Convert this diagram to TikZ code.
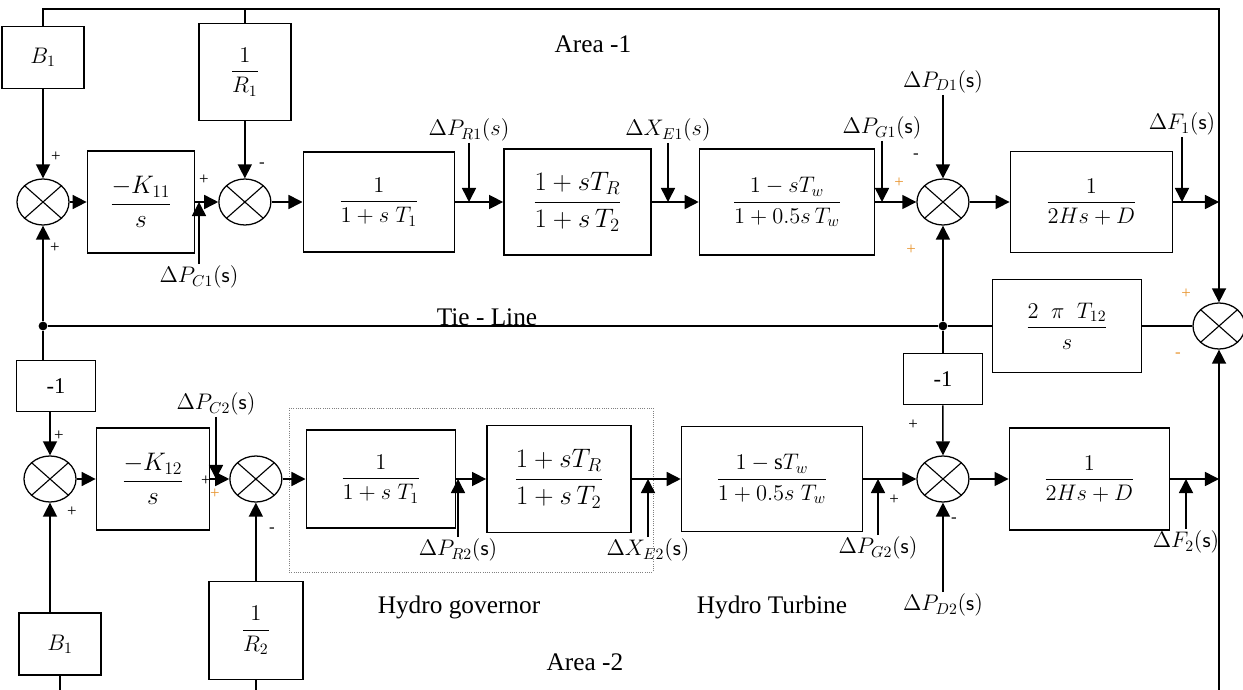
\documentclass[tikz,border=0pt]{standalone}
\usepackage{fix-cm}
\usepackage{amsmath}
\usepackage{fontspec}
\setmainfont{Liberation Serif}
\usetikzlibrary{shapes.geometric, arrows.meta, positioning}
\definecolor{plusorange}{RGB}{232,150,50}
\tikzset{
  blk/.style={rectangle, draw, line width=1.1pt, inner sep=2pt,
              align=center, font=\fontsize{16}{19}\selectfont},
  bigblk/.style={blk, font=\fontsize{19}{22}\selectfont},
  sumj/.style={ellipse, draw, line width=0.9pt, minimum width=1.3cm,
               minimum height=1.15cm, inner sep=0pt,
               path picture={\draw[line width=0.8pt]
                 (path picture bounding box.north west) -- (path picture bounding box.south east)
                 (path picture bounding box.north east) -- (path picture bounding box.south west);}},
  dot/.style={circle, fill, inner sep=0pt, minimum size=0.22cm},
  sig/.style={font=\fontsize{16}{19}\selectfont, inner sep=1pt},
  pm/.style={font=\fontsize{12}{14}\selectfont, inner sep=0pt},
  lbl/.style={font=\fontsize{18}{21}\selectfont},
  arr/.style={-{Triangle[length=10pt,width=10pt]}, line width=1.1pt},
  ln/.style={line width=1.1pt},
}
\begin{document}
\begin{tikzpicture}[x=0.025cm, y=-0.025cm]
  \useasboundingbox (0,0) rectangle (1243,690);
  \clip (0,0) rectangle (1243,690);

  \node[sumj] (s1) at (43,202) {};
  \node[blk, font=\fontsize{18}{21}\selectfont, minimum width=2.675cm, minimum height=2.55cm, right=0.425cm of s1] (k11) {$\dfrac{-K_{11}}{s}$};
  \node[sumj, right=0.575cm of k11] (s2) {};
  \node[blk, minimum width=3.775cm, minimum height=2.5cm, right=0.775cm of s2] (gov1) {$\dfrac{1}{1+s\;T_1}$};
  \node[bigblk, minimum width=3.675cm, minimum height=2.65cm, right=1.2cm of gov1] (hyd1) {$\dfrac{1+sT_R}{1+s\,T_2}$};
  \node[blk, minimum width=4.375cm, minimum height=2.65cm, right=1.175cm of hyd1] (tur1) {$\dfrac{1-sT_w}{1+0.5s\,T_w}$};
  \node[sumj, right=1.025cm of tur1] (s3) {};
  \node[blk, minimum width=4.05cm, minimum height=2.525cm, right=1cm of s3] (pw1) {$\dfrac{1}{2Hs+D}$};
  \node[blk, minimum width=2.05cm, minimum height=1.55cm, above=2.225cm of s1] (b1t) {$B_1$};
  \node[blk, minimum width=2.3cm, minimum height=2.425cm, above=1.425cm of s2] (r1t) {$\dfrac{1}{R_1}$};

  \node[sumj] (s4) at (1219,326) {};
  \node[blk, minimum width=3.725cm, minimum height=2.325cm] (tie) at (1067,326) {$\dfrac{2\;\;\pi\;\;T_{12}}{s}$};
  \node[dot] (jL) at (s1 |- tie) {};
  \node[dot] (jR) at (s3 |- tie) {};
  \node[blk, minimum width=1.975cm, minimum height=1.275cm] (n1a) at (56,386) {-1};

  \node[sumj] (s5) at (50,479) {};
  \node[blk, font=\fontsize{18}{21}\selectfont, minimum width=2.825cm, minimum height=2.55cm, right=0.475cm of s5] (k12) {$\dfrac{-K_{12}}{s}$};
  \node[sumj, right=0.475cm of k12] (s6) {};
  \node[blk, minimum width=3.725cm, minimum height=2.45cm, right=0.575cm of s6] (gov2) {$\dfrac{1}{1+s\;T_1}$};
  \node[bigblk, minimum width=3.6cm, minimum height=2.675cm, right=0.75cm of gov2] (hyd2) {$\dfrac{1+sT_R}{1+s\,T_2}$};
  \node[blk, minimum width=4.525cm, minimum height=2.625cm, right=1.225cm of hyd2] (tur2) {$\dfrac{1 - \mathrm{s}T_w}{1+0.5s\;T_w}$};
  \node[sumj, right=1.325cm of tur2] (s7) {};
  \node[blk, minimum width=4cm, minimum height=2.55cm, right=0.975cm of s7] (pw2) {$\dfrac{1}{2Hs+D}$};
  \node[blk, minimum width=1.975cm, minimum height=1.275cm, below=0.55cm of jR] (n1b) {-1};
  \node[blk, minimum width=2.05cm, minimum height=1.55cm] (b1b) at (60,644) {$B_1$};
  \node[blk, minimum width=2.35cm, minimum height=2.45cm, below=1.95cm of s6] (r2) {$\dfrac{1}{R_2}$};

  \node[sig] (pr1) at (469,130) {$\Delta P_{R1}(s)$};
  \node[sig] (xe1) at (668,130) {$\Delta X_{E1}(s)$};
  \node[sig] (pg1) at (882,128) {$\Delta P_{G1}(\mathsf{s})$};
  \node[sig] (pd1) at (s3 |- 0,82) {$\Delta P_{D1}(\mathsf{s})$};
  \node[sig] (f1) at (1182,124) {$\Delta F_1(\mathsf{s})$};
  \node[sig] (pc1) at (199,277) {$\Delta P_{C1}(\mathsf{s})$};
  \node[sig] (pc2) at (216,404) {$\Delta P_{C2}(\mathsf{s})$};
  \node[sig] (pr2) at (458,550) {$\Delta P_{R2}(\mathsf{s})$};
  \node[sig] (xe2) at (648,550) {$\Delta X_{E2}(\mathsf{s})$};
  \node[sig] (pg2) at (878,548) {$\Delta P_{G2}(\mathsf{s})$};
  \node[sig] (pd2) at (s7 |- 0,605) {$\Delta P_{D2}(\mathsf{s})$};
  \node[sig] (f2) at (1186,542) {$\Delta F_2(\mathsf{s})$};

  \node[lbl] (area1) at (593,44) {Area -1};
  \node[lbl, anchor=base] (tieln) at (487,325) {Tie - Line};
  \node[lbl] (hgov) at (459,607) {Hydro governor};
  \node[lbl] (htur) at (772,607) {Hydro Turbine};
  \node[lbl] (area2) at (585,662) {Area -2};

  \draw[densely dotted, line width=0.6pt, gray] (289,408) rectangle (653,572);

  \draw[arr] (s1) -- (k11);
  \draw[arr] (k11) -- (s2);
  \draw[arr] (s2) -- (gov1);
  \draw[arr] (gov1) -- (hyd1);
  \draw[arr] (hyd1) -- (tur1);
  \draw[arr] (tur1) -- (s3);
  \draw[arr] (s3) -- (pw1);
  \coordinate (o1) at (s4 |- pw1);
  \coordinate (top) at (s4 |- 0,9);
  \draw[arr] (pw1) -- (o1);
  \draw[arr] (b1t) -- (s1);
  \draw[arr] (r1t) -- (s2);
  \draw[ln] (o1) -- (top) -| (b1t.north);
  \draw[ln] (r1t.north) -- (r1t.north |- top);
  \draw[arr] (o1) -- (s4);

  \draw[ln] (s4) -- (tie);
  \draw[ln] (tie) -- (jR) -- (jL);
  \draw[arr] (jL) -- (s1);
  \draw[arr] (jR) -- (s3);
  \draw[ln] (jL) -- (jL |- n1a.north);
  \draw[arr] (s5 |- n1a.south) -- (s5);
  \draw[ln] (jR) -- (n1b);
  \draw[arr] (n1b) -- (s7);

  \draw[arr] (s5) -- (k12);
  \draw[arr] (k12) -- (s6);
  \draw[arr] (s6) -- (gov2);
  \draw[arr] (gov2) -- (hyd2);
  \draw[arr] (hyd2) -- (tur2);
  \draw[arr] (tur2) -- (s7);
  \draw[arr] (s7) -- (pw2);
  \coordinate (o2) at (s4 |- pw2);
  \coordinate (bot) at (s4 |- 0,690);
  \draw[arr] (pw2) -- (o2);
  \draw[arr] (bot) -- (s4);
  \draw[arr] (s5 |- b1b.north) -- (s5);
  \draw[arr] (r2) -- (s6);
  \draw[ln] (b1b.south) -- (b1b.south |- bot);
  \draw[ln] (r2.south) -- (r2.south |- bot);

  \draw[arr] (pr1) -- (pr1 |- gov1);
  \draw[arr] (xe1) -- (xe1 |- hyd1);
  \draw[arr] (pg1) -- (pg1 |- tur1);
  \draw[arr] (pd1) -- (s3);
  \draw[arr] (f1) -- (f1 |- pw1);
  \draw[arr] (pc1) -- (pc1 |- k11);
  \draw[arr] (pc2) -- (pc2 |- k12);
  \draw[arr] (pr2) -- (pr2 |- gov2);
  \draw[arr] (xe2) -- (xe2 |- hyd2);
  \draw[arr] (pg2) -- (pg2 |- tur2);
  \draw[arr] (pd2) -- (s7);
  \draw[arr] (f2) -- (f2 |- pw2);

  \node[pm] at (56,157) {+};
  \node[pm] at (55,248) {+};
  \node[pm] at (204,180) {+};
  \node[pm] at (262,165) {-};
  \node[pm, plusorange] at (899,183) {+};
  \node[pm] at (916,156) {-};
  \node[pm, plusorange] at (911,250) {+};
  \node[pm, plusorange] at (1186,294) {+};
  \node[pm, plusorange] at (1178,355) {-};
  \node[pm] at (59,436) {+};
  \node[pm] at (72,512) {+};
  \node[pm] at (206,481) {+};
  \node[pm, plusorange] at (215,494) {+};
  \node[pm] at (272,530) {-};
  \node[pm] at (913,425) {+};
  \node[pm] at (894,500) {+};
  \node[pm] at (954,520) {-};
\end{tikzpicture}
\end{document}
